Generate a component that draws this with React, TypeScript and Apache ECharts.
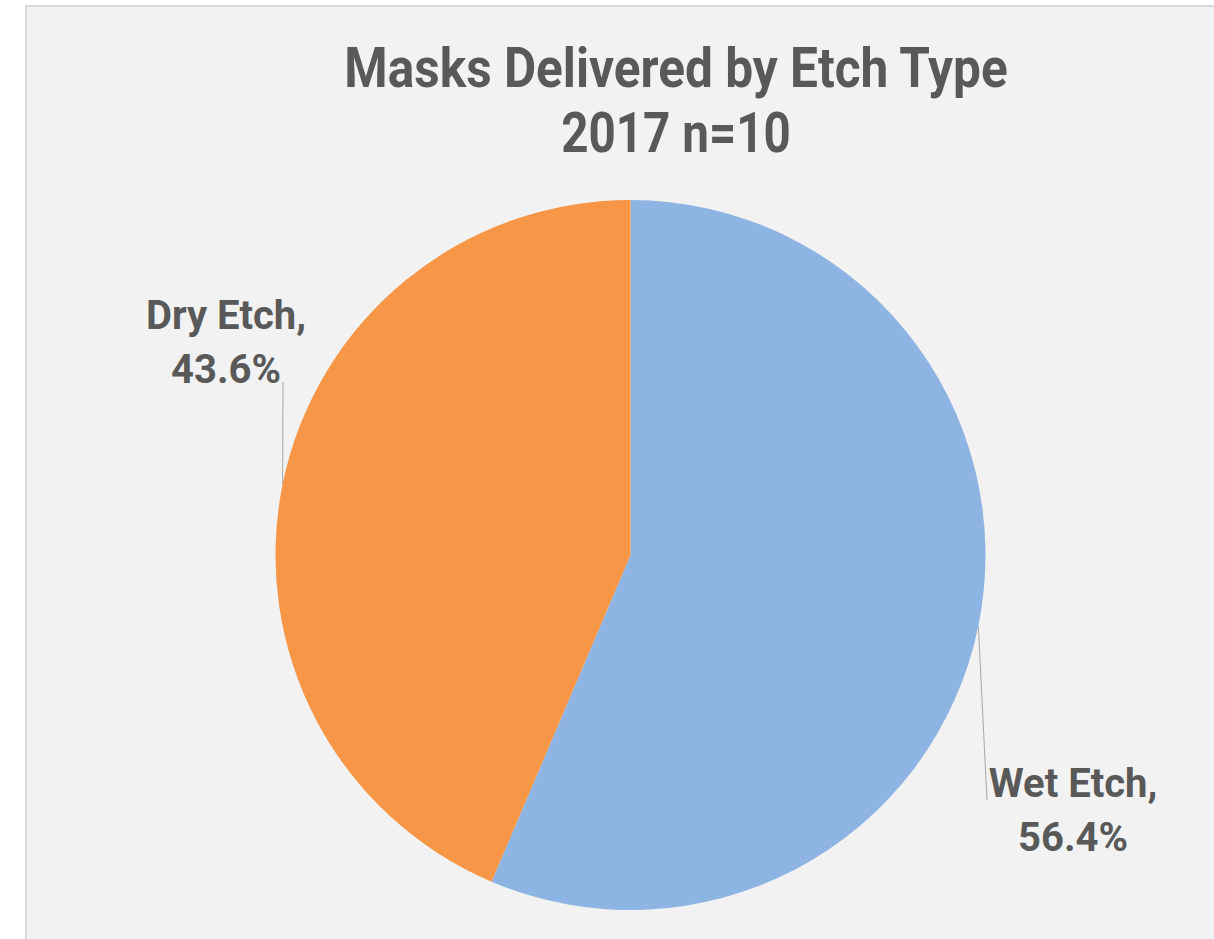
import React, { useEffect, useRef } from "react";
import * as echarts from "echarts";

const titleLines = ["Masks Delivered by Etch Type", "2017 n=10"];
const categories = ["Wet Etch", "Dry Etch"];
const shares = [56.4, 43.6];
const colors = ["#8eb4e3", "#f79646"];

const FONT = "Roboto, 'Liberation Sans', sans-serif";

export default function App() {
  const ref = useRef<HTMLDivElement>(null);
  useEffect(() => {
    if (!ref.current) return;
    const chart = echarts.init(ref.current, null, { renderer: "svg" });
    // label anchor positions (layout only)
    const labelPos = [
      { x: 1073, y: 810, end: [987, 800] },
      { x: 226, y: 342, end: [283, 382] },
    ];
    const titleStyle = {
      fontFamily: FONT,
      fontSize: 56,
      fontWeight: "bold",
      fill: "#595959",
      align: "center",
      verticalAlign: "middle",
    };
    chart.setOption({
      animation: false,
      backgroundColor: "#ffffff",
      graphic: [
        {
          type: "rect",
          z: -10,
          shape: { x: 26, y: 6, width: 1300, height: 1000 },
          style: { fill: "#f2f2f2", stroke: "#d9d9d9", lineWidth: 2 },
          silent: true,
        },
        {
          type: "text",
          x: 676,
          y: 68,
          scaleX: 0.885,
          style: { ...titleStyle, text: titleLines[0] },
          silent: true,
        },
        {
          type: "text",
          x: 676,
          y: 133,
          scaleX: 0.85,
          style: { ...titleStyle, text: titleLines[1] },
          silent: true,
        },
      ],
      series: [
        {
          type: "pie",
          center: [630.5, 555],
          radius: 355,
          startAngle: 90,
          clockwise: true,
          avoidLabelOverlap: false,
          itemStyle: { borderWidth: 0 },
          emphasis: { disabled: true },
          data: categories.map((c, i) => ({
            name: c,
            value: shares[i],
            itemStyle: { color: colors[i] },
          })),
          label: {
            show: true,
            position: "outside",
            formatter: (p: any) => `${p.name},\n${p.value.toFixed(1)}%`,
            fontFamily: FONT,
            fontSize: 40,
            lineHeight: 54,
            fontWeight: "bold",
            color: "#595959",
            align: "center",
          },
          labelLine: {
            show: true,
            lineStyle: { color: "#a6a6a6", width: 1 },
          },
          labelLayout: (params: any) => {
            const lp = labelPos[params.dataIndex];
            const start = params.labelLinePoints ? params.labelLinePoints[0] : lp.end;
            return {
              x: lp.x,
              y: lp.y,
              align: "center",
              verticalAlign: "middle",
              labelLinePoints: [start, lp.end, lp.end],
            };
          },
        },
      ],
    });
    return () => chart.dispose();
  }, []);
  return (
    <div
      ref={ref}
      style={{ position: "absolute", left: 0, top: 0, width: 1214, height: 939 }}
    />
  );
}
